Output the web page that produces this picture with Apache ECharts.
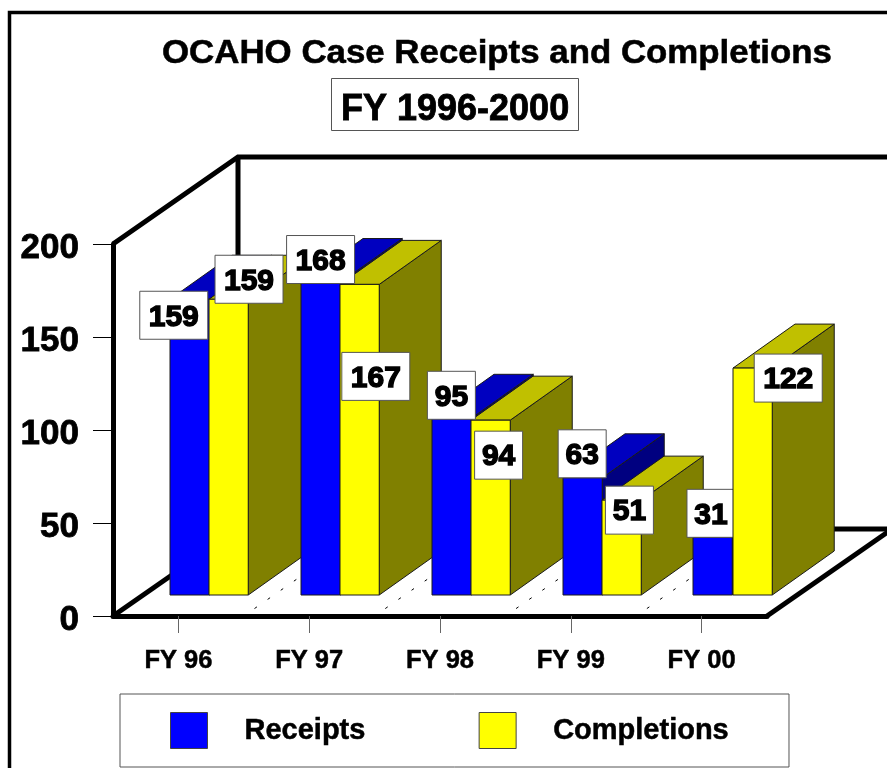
<!DOCTYPE html>
<html><head><meta charset="utf-8">
<style>html,body{margin:0;padding:0;background:#fff}#c{width:887px;height:768px}</style>
<script src="https://cdn.jsdelivr.net/npm/echarts@6/dist/echarts.min.js"></script>
</head><body><div id="c"></div>
<script>
const categories = ['FY 96','FY 97','FY 98','FY 99','FY 00'];
const receipts = [159,168,95,63,31];
const completions = [159,167,94,51,122];
const yTicks = [0,50,100,150,200];

const FONT = '"Liberation Sans", Arial, sans-serif';
// depth projection, in pixels, of the oblique 3D view
const WALL = [125,-87], GAP = [31,-21], DEPTH = [62,-44];
// placement of each value box relative to its bar top centre
const receiptBox = [[-16,16],[0,-23],[0,-23],[0,-24],[-2,-24]];
const completionBox = [[20,-20],[16,92],[8,35],[8,10],[36,10]];

function poly(points, fill, z2){
  return {type:'polygon', z2, shape:{points}, style:{fill, stroke:'#1a1a1a', lineWidth:1}};
}
function barItem(slot, front, side, top){
  return function(params, api){
    const i = api.value(0), v = api.value(1);
    const c0 = api.coord([i,0]), c1 = api.coord([i,v]);
    const w = api.size([1,0])[0]*0.3;
    const xl = Math.round(c0[0] + GAP[0] + (slot-1)*w), xr = xl + w;
    const yb = c0[1] + GAP[1], yt = c1[1] + GAP[1];
    const z = 10 + i*2 + slot;
    const dx = DEPTH[0], dy = DEPTH[1];
    return {type:'group', children:[
      poly([[xr,yt],[xr+dx,yt+dy],[xr+dx,yb+dy],[xr,yb]], side, z),
      poly([[xl,yt],[xl+dx,yt+dy],[xr+dx,yt+dy],[xr,yt]], top, z),
      poly([[xl,yt],[xr,yt],[xr,yb],[xl,yb]], front, z)
    ]};
  };
}
function boxItem(slot, boxes){
  return function(params, api){
    const i = api.value(0), v = api.value(1);
    const c0 = api.coord([i,0]), c1 = api.coord([i,v]);
    const w = api.size([1,0])[0]*0.3;
    const cx = c0[0] + GAP[0] + (slot-0.5)*w + boxes[i][0];
    const cy = c1[1] + GAP[1] + boxes[i][1];
    const text = String(v);
    const bw = text.length > 2 ? 68 : 48, bh = 48;
    const z = (slot===0 && i===4) ? 18.5 : 100;
    return {type:'group', children:[
      {type:'rect', z2:z, shape:{x:cx-bw/2,y:cy-bh/2,width:bw,height:bh},
       style:{fill:'#fff',stroke:'#555',lineWidth:1}},
      {type:'text', z2:z+0.1, style:{text, x:cx, y:cy+2, align:'center', verticalAlign:'middle',
        font:'bold 30px '+FONT, fill:'#000', stroke:'#000', lineWidth:1.4}}
    ]};
  };
}
function frameItem(params, api){
  const o = api.coord([0,0]), t = api.coord([0,200]);
  const band = api.size([1,0])[0];
  const x0 = params.coordSys.x, w = params.coordSys.width, y0 = o[1], yT = t[1];
  const farX = x0 + w + WALL[0] + 200;
  const heavy = {stroke:'#000', lineWidth:5, lineJoin:'miter', fill:null};
  const kids = [
    {type:'polyline', z2:1, shape:{points:[[x0,yT],[x0+WALL[0],yT+WALL[1]],[farX,yT+WALL[1]]]}, style:heavy},
    {type:'line', z2:1, shape:{x1:x0+WALL[0],y1:yT+WALL[1],x2:x0+WALL[0],y2:y0+WALL[1]}, style:heavy},
    {type:'line', z2:1, shape:{x1:x0,y1:y0,x2:x0+WALL[0],y2:y0+WALL[1]}, style:heavy},
    {type:'line', z2:1, shape:{x1:x0+WALL[0],y1:y0+WALL[1],x2:farX,y2:y0+WALL[1]}, style:heavy},
    {type:'polygon', z2:1.5, shape:{points:[[x0+w,y0],[x0+w+WALL[0],y0+WALL[1]+2],[farX,y0+WALL[1]+2],[farX,y0]]}, style:{fill:'#fff'}},
    {type:'line', z2:2, shape:{x1:x0+w,y1:y0,x2:x0+w+WALL[0]*1.2,y2:y0+WALL[1]*1.2}, style:heavy}
  ];
  for(let k=1;k<categories.length;k++){
    const bx = x0 + band*k;
    kids.push({type:'line', z2:3, shape:{x1:bx,y1:y0,x2:bx+WALL[0],y2:y0+WALL[1]},
      style:{stroke:'#000', lineWidth:1, lineDash:[3,13], lineDashOffset:-13}});
  }
  return {type:'group', children:kids};
}
const pairs = a => a.map((v,i)=>[i,v]);
const chart = echarts.init(document.getElementById('c'), null, {renderer:'canvas'});
chart.setOption({
  animation:false,
  backgroundColor:'#fff',
  title:[
    {text:'FY 1996-2000', left:332, top:79, backgroundColor:'#fff', borderColor:'#555', borderWidth:1,
     padding:[13,9,2,9], textStyle:{fontFamily:FONT, fontWeight:'bold', fontSize:36, color:'#000', textBorderColor:'#000', textBorderWidth:0.8}}
  ],
  graphic:[
    {type:'polyline', silent:true, shape:{points:[[9.5,768],[9.5,12.5],[887,12.5]]},
     style:{stroke:'#000', lineWidth:3.5, fill:null}},
    {type:'text', silent:true, x:162, y:37, scaleX:1.124, scaleY:1.1,
     style:{text:'OCAHO Case Receipts and Completions', font:'bold 31px '+FONT, fill:'#000', stroke:'#000', lineWidth:0.5}}
  ],
  legend:{
    data:['Receipts','Completions'], left:120, top:694, orient:'horizontal',
    padding:[18,60,18,50], itemWidth:37, itemHeight:36, itemGap:113, icon:'rect',
    selectedMode:false, backgroundColor:'#fff', borderColor:'#555', borderWidth:1,
    itemStyle:{borderColor:'#444', borderWidth:1},
    textStyle:{fontFamily:FONT, fontWeight:'bold', fontSize:29, color:'#000', padding:[8,0,0,32],
      textBorderColor:'#000', textBorderWidth:0.5}
  },
  grid:{left:113, top:244, width:654, height:372, containLabel:false},
  xAxis:{type:'category', data:categories, boundaryGap:true,
    axisLine:{show:true, lineStyle:{color:'#000', width:5}},
    axisTick:{show:true, alignWithLabel:true, length:17, lineStyle:{color:'#666', width:1}},
    axisLabel:{fontFamily:FONT, fontWeight:'bold', fontSize:25.5, color:'#000', margin:32, interval:0,
      textBorderColor:'#000', textBorderWidth:0.5}},
  yAxis:{type:'value', min:0, max:yTicks[yTicks.length-1], interval:yTicks[1]-yTicks[0],
    splitLine:{show:false},
    axisLine:{show:true, lineStyle:{color:'#000', width:5}},
    axisTick:{show:true, length:20, lineStyle:{color:'#000', width:1}},
    axisLabel:{fontFamily:FONT, fontWeight:'bold', fontSize:35, color:'#000', margin:34, align:'right',
      verticalAlign:'top', lineHeight:8, textBorderColor:'#000', textBorderWidth:0.8}},
  series:[
    {name:'frame', type:'custom', data:[[0,0]], encode:{x:0,y:1}, renderItem:frameItem, silent:true, clip:false},
    {name:'Receipts', type:'custom', data:pairs(receipts), encode:{x:0,y:1}, silent:true, clip:false,
     itemStyle:{color:'#0000ff'}, renderItem:barItem(0,'#0000ff','#000080','#0000c0')},
    {name:'Completions', type:'custom', data:pairs(completions), encode:{x:0,y:1}, silent:true, clip:false,
     itemStyle:{color:'#ffff00'}, renderItem:barItem(1,'#ffff00','#808000','#c0c000')},
    {name:'receiptValues', type:'custom', data:pairs(receipts), encode:{x:0,y:1}, silent:true, clip:false,
     renderItem:boxItem(0,receiptBox)},
    {name:'completionValues', type:'custom', data:pairs(completions), encode:{x:0,y:1}, silent:true, clip:false,
     renderItem:boxItem(1,completionBox)}
  ]
});
</script></body></html>
